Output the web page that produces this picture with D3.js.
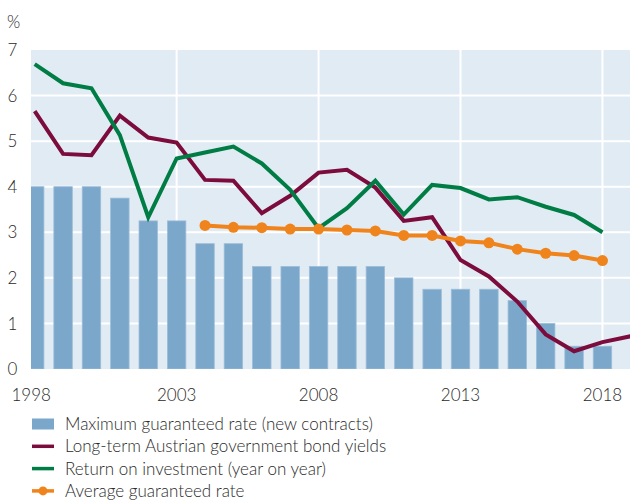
<!DOCTYPE html>
<html><head><meta charset="utf-8">
<script src="https://cdn.jsdelivr.net/npm/d3@7"></script>
<style>body{margin:0;background:#fff}svg{display:block}text{font-family:Lato,"Open Sans",sans-serif;fill:#2a2a2a;font-weight:300}</style>
</head><body>
<script>
const years = d3.range(1998, 2020);
const maxGuaranteed = [4,4,4,3.75,3.25,3.25,2.75,2.75,2.25,2.25,2.25,2.25,2.25,2.0,1.75,1.75,1.75,1.5,1.0,0.5,0.5,null];
const bondYields = [5.66,4.72,4.69,5.56,5.08,4.97,4.15,4.13,3.42,3.8,4.31,4.37,3.98,3.25,3.33,2.39,2.03,1.48,0.76,0.39,0.59,0.72];
const roi = [6.69,6.27,6.16,5.13,3.33,4.62,4.75,4.88,4.51,3.93,3.09,3.53,4.13,3.39,4.04,3.97,3.72,3.77,3.56,3.38,3.0,null];
const avgGuaranteed = [null,null,null,null,null,null,3.15,3.11,3.1,3.07,3.07,3.05,3.03,2.93,2.93,2.81,2.77,2.63,2.54,2.49,2.38,null];
const yTicks = [0,1,2,3,4,5,6,7];
const xTicks = [1998,2003,2008,2013,2018];
const legendLabels = ["Maximum guaranteed rate (new contracts)","Long-term Austrian government bond yields","Return on investment (year on year)","Average guaranteed rate"];
const colors = {bar:"#7ba7cb", red:"#7b0c3c", green:"#007c45", orange:"#f0841c", bg:"#e1ebf4"};

const W = 630, H = 501;
const plot = {left:31, right:630, top:50, bottom:369};
const svg = d3.select("body").append("svg").attr("width", W).attr("height", H);

const x = d3.scaleLinear().domain([1997.87, 2018.97]).range([plot.left, plot.right]);
const y = d3.scaleLinear().domain([0, 7]).range([plot.bottom, plot.top]);
const step = x(1999) - x(1998);
const barW = step * 0.65;

svg.append("defs").append("clipPath").attr("id","clip")
  .append("rect").attr("x", plot.left).attr("y", plot.top - 10)
  .attr("width", plot.right - plot.left).attr("height", plot.bottom - plot.top + 10);

svg.append("rect").attr("x", plot.left).attr("y", plot.top)
  .attr("width", plot.right - plot.left).attr("height", plot.bottom - plot.top).attr("fill", colors.bg);

const g = svg.append("g").attr("clip-path", "url(#clip)");
g.selectAll(".hg").data(yTicks.filter(d => d > 0 && d < 7)).join("line")
  .attr("x1", plot.left).attr("x2", plot.right).attr("y1", d => y(d)).attr("y2", d => y(d))
  .attr("stroke", "#fff").attr("stroke-width", 2);
g.selectAll(".vg").data(xTicks.slice(1)).join("line")
  .attr("x1", d => x(d)).attr("x2", d => x(d)).attr("y1", plot.top).attr("y2", plot.bottom)
  .attr("stroke", "#fff").attr("stroke-width", 2);

const barData = years.map((yr, i) => ({yr, v: maxGuaranteed[i]})).filter(d => d.v != null);
g.selectAll(".bar").data(barData).join("rect")
  .attr("x", d => x(d.yr) - barW/2).attr("width", barW)
  .attr("y", d => y(d.v)).attr("height", d => y(0) - y(d.v))
  .attr("fill", colors.bar).attr("stroke", "#9dbdd8").attr("stroke-width", 0.8);

function series(arr){ return years.map((yr,i)=>({yr, v:arr[i]})).filter(d => d.v != null); }
const line = d3.line().x(d => x(d.yr)).y(d => y(d.v));

g.append("path").datum(series(bondYields)).attr("d", line).attr("fill","none")
  .attr("stroke", colors.red).attr("stroke-width", 4).attr("stroke-linejoin","miter");
g.append("path").datum(series(roi)).attr("d", line).attr("fill","none")
  .attr("stroke", colors.green).attr("stroke-width", 4).attr("stroke-linejoin","miter");
const avg = series(avgGuaranteed);
g.append("path").datum(avg).attr("d", line).attr("fill","none")
  .attr("stroke", colors.orange).attr("stroke-width", 4);
g.selectAll(".dot").data(avg).join("circle")
  .attr("cx", d => x(d.yr)).attr("cy", d => y(d.v)).attr("r", 5.5).attr("fill", colors.orange);

svg.selectAll(".yl").data(yTicks).join("text")
  .attr("x", 12.5).attr("y", d => y(d)).attr("dy", "0.36em").attr("text-anchor","middle")
  .attr("font-size", 17).text(d => d);
svg.append("text").attr("x", 7).attr("y", 28).attr("font-size", 17).text("%");
svg.selectAll(".xl").data(xTicks).join("text")
  .attr("x", d => d === 1998 ? x(d) - 3.5 : x(d)).attr("y", 401).attr("text-anchor","middle")
  .attr("font-size", 17).text(d => d);

const lg = svg.append("g");
const rowY = i => 424 + i * 22.3;
legendLabels.forEach((lab, i) => {
  const cy = rowY(i);
  if (i === 0) {
    lg.append("rect").attr("x", 32).attr("y", cy - 5.5).attr("width", 22).attr("height", 11).attr("fill", colors.bar);
  } else {
    const c = [null, colors.red, colors.green, colors.orange][i];
    lg.append("line").attr("x1", 32).attr("x2", 54).attr("y1", cy).attr("y2", cy).attr("stroke", c).attr("stroke-width", 3.5);
    if (i === 3) lg.append("circle").attr("cx", 43).attr("cy", cy).attr("r", 4.5).attr("fill", c);
  }
  lg.append("text").attr("x", 65).attr("y", cy).attr("dy","0.36em").attr("font-size", 17).text(lab);
});
</script>
</body></html>
